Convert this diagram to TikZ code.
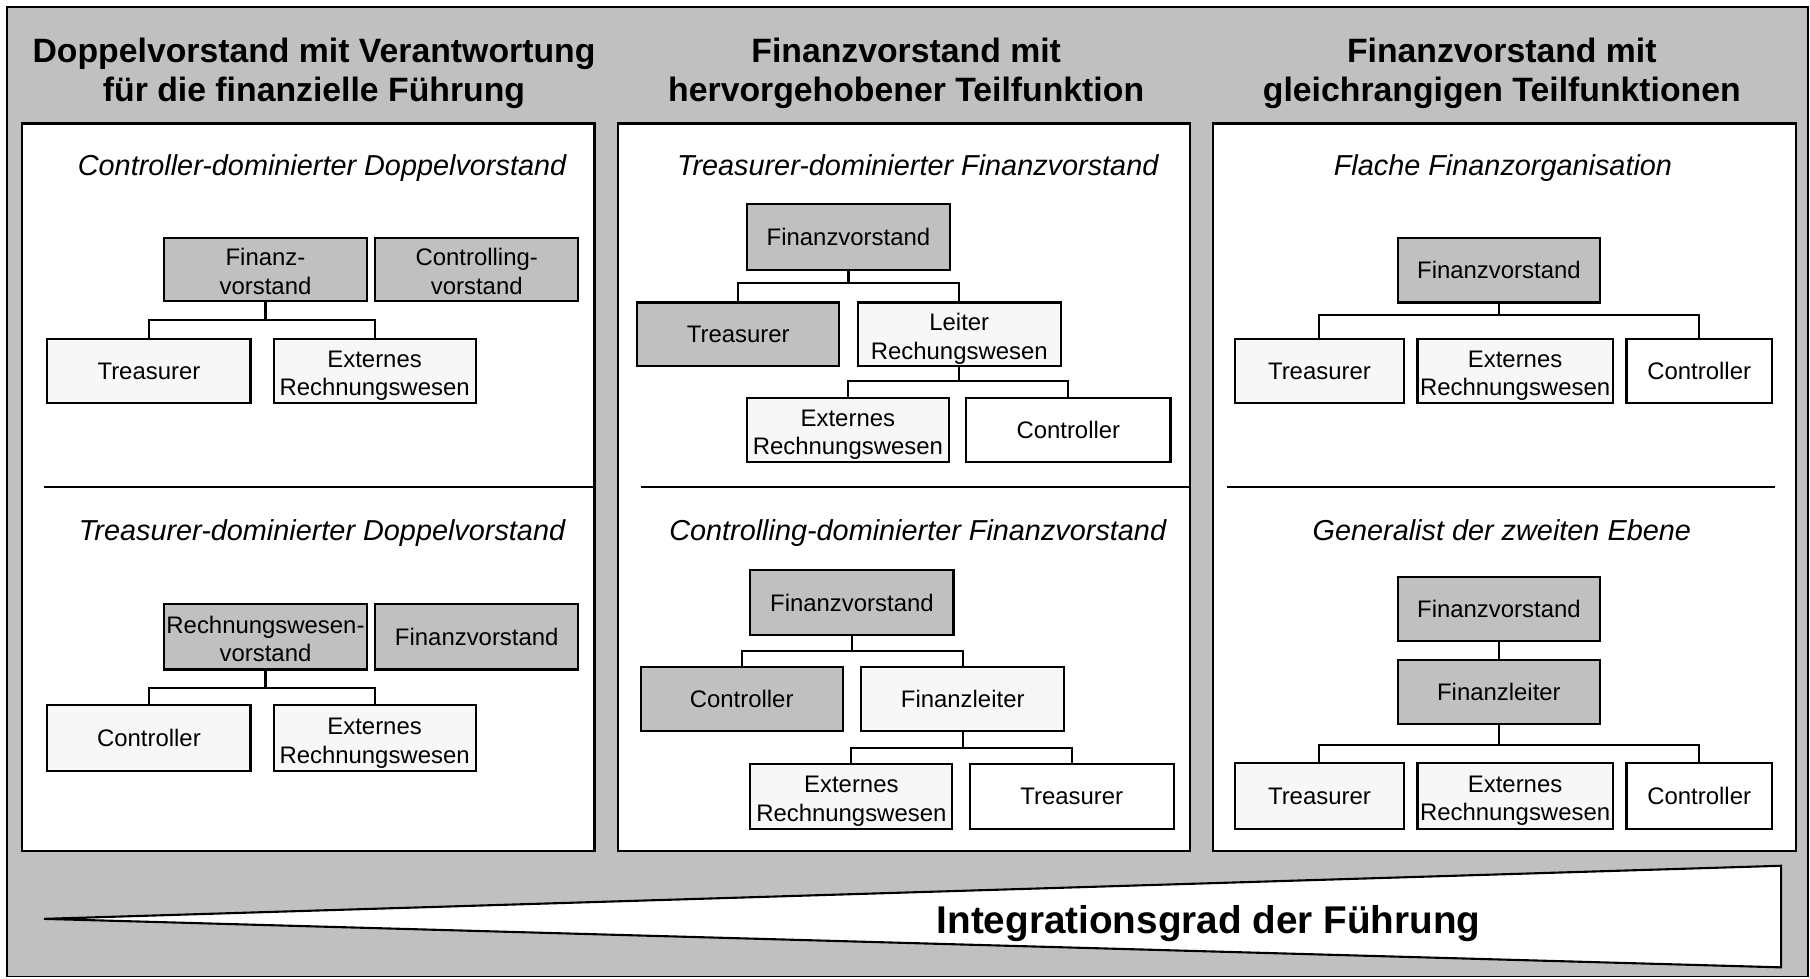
\documentclass[tikz,border=0pt]{standalone}
\usepackage{fontspec}
\setmainfont{Liberation Sans}
\newdimen\unitpx
\unitpx=0.011543cm
\definecolor{bggray}{RGB}{192,192,192}
\definecolor{lightbox}{RGB}{247,247,247}
\newcommand\twol[2]{\raisebox{-1.4pt}[\height][\depth]{\begin{tabular}{@{}c@{}}#1\\#2\end{tabular}}}
\begin{document}
\begin{tikzpicture}[x=0.011543cm,y=-0.011543cm,
  ttl/.style={align=center,font=\fontsize{9.6}{11}\selectfont\bfseries,inner sep=0pt},
  sub/.style={font=\fontsize{8.2}{10}\selectfont\itshape,inner sep=0pt,anchor=base},
  boxbase/.style={draw,line width=0.6pt,align=center,inner sep=0pt,font=\fontsize{6.8}{8.1}\selectfont},
  graybox/.style={boxbase,fill=bggray},
  litebox/.style={boxbase,fill=lightbox},
  whitebox/.style={boxbase,fill=white},
  conn/.style={line width=0.6pt},
  panel/.style={draw,line width=0.6pt,fill=white}]
\useasboundingbox (0,0) rectangle (1568,848);
\draw[line width=0.5pt,fill=bggray] (6,6) rectangle (1566,846);

% titles
\node[ttl] (t1) at (272,63.5) {Doppelvorstand mit Verantwortung\\für die finanzielle Führung};
\node[ttl] (t2) at (785,63.5) {Finanzvorstand mit\\hervorgehobener Teilfunktion};
\node[ttl] (t3) at (1301,63.5) {Finanzvorstand mit\\gleichrangigen Teilfunktionen};

% panels
\draw[panel] (19,107) rectangle (515,737);
\draw[panel] (535,107) rectangle (1031,737);
\draw[panel] (1051,107) rectangle (1556,737);
\draw[conn] (38,422) -- (515,422);
\draw[conn] (555,422) -- (1031,422);
\draw[conn] (1063,422) -- (1538,422);

% subtitles
\node[sub] (s1) at (279,152) {Controller-dominierter Doppelvorstand};
\node[sub] (s2) at (279,468) {Treasurer-dominierter Doppelvorstand};
\node[sub] (s3) at (795,152) {Treasurer-dominierter Finanzvorstand};
\node[sub] (s4) at (795,468) {Controlling-dominierter Finanzvorstand};
\node[sub] (s5) at (1302,152) {Flache Finanzorganisation};
\node[sub] (s6) at (1301,468) {Generalist der zweiten Ebene};

% panel 1 top
\node[graybox,minimum width=176\unitpx,minimum height=55\unitpx] (a1) at (230,233.5) {\twol{Finanz-}{vorstand}};
\node[graybox,minimum width=176\unitpx,minimum height=55\unitpx] (a2) at (413,233.5) {\twol{Controlling-}{vorstand}};
\node[litebox,minimum width=176\unitpx,minimum height=55\unitpx] (a3) at (129,321.5) {Treasurer};
\node[litebox,minimum width=175\unitpx,minimum height=55\unitpx] (a4) at (324.5,321.5) {\twol{Externes}{Rechnungswesen}};
\coordinate (busA) at (0,277);
\draw[conn] (a1.south) -- (a1.south |- busA);
\draw[conn] (a3.north) |- (a4.north |- busA) -- (a4.north);

% panel 1 bottom
\node[graybox,minimum width=176\unitpx,minimum height=57\unitpx] (b1) at (230,551.5) {\twol{Rechnungswesen-}{vorstand}};
\node[graybox,minimum width=176\unitpx,minimum height=57\unitpx] (b2) at (413,551.5) {Finanzvorstand};
\node[litebox,minimum width=176\unitpx,minimum height=57\unitpx] (b3) at (129,639.5) {Controller};
\node[litebox,minimum width=175\unitpx,minimum height=57\unitpx] (b4) at (324.5,639.5) {\twol{Externes}{Rechnungswesen}};
\coordinate (busB) at (0,596);
\draw[conn] (b1.south) -- (b1.south |- busB);
\draw[conn] (b3.north) |- (b4.north |- busB) -- (b4.north);

% panel 2 top
\node[graybox,minimum width=176\unitpx,minimum height=57\unitpx] (c1) at (735,205.5) {Finanzvorstand};
\node[graybox,minimum width=175\unitpx,minimum height=55\unitpx] (c2) at (639.5,289.5) {Treasurer};
\node[litebox,minimum width=176\unitpx,minimum height=55\unitpx] (c3) at (831,289.5) {\twol{Leiter}{Rechungswesen}};
\node[litebox,minimum width=175\unitpx,minimum height=55\unitpx] (c4) at (734.5,372.5) {\twol{Externes}{Rechnungswesen}};
\node[whitebox,minimum width=177\unitpx,minimum height=55\unitpx] (c5) at (925.5,372.5) {Controller};
\coordinate (busC) at (0,245);
\coordinate (busC2) at (0,330);
\draw[conn] (c1.south) -- (c1.south |- busC);
\draw[conn] (c2.north) |- (c3.north |- busC) -- (c3.north);
\draw[conn] (c3.south) -- (c3.south |- busC2);
\draw[conn] (c4.north) |- (c5.north |- busC2) -- (c5.north);

% panel 2 bottom
\node[graybox,minimum width=176\unitpx,minimum height=56\unitpx] (d1) at (738,522) {Finanzvorstand};
\node[graybox,minimum width=175\unitpx,minimum height=55\unitpx] (d2) at (642.5,605.5) {Controller};
\node[litebox,minimum width=176\unitpx,minimum height=55\unitpx] (d3) at (834,605.5) {Finanzleiter};
\node[litebox,minimum width=175\unitpx,minimum height=56\unitpx] (d4) at (737.5,690) {\twol{Externes}{Rechnungswesen}};
\node[whitebox,minimum width=177\unitpx,minimum height=56\unitpx] (d5) at (928.5,690) {Treasurer};
\coordinate (busD) at (0,564);
\coordinate (busD2) at (0,648);
\draw[conn] (d1.south) -- (d1.south |- busD);
\draw[conn] (d2.north) |- (d3.north |- busD) -- (d3.north);
\draw[conn] (d3.south) -- (d3.south |- busD2);
\draw[conn] (d4.north) |- (d5.north |- busD2) -- (d5.north);

% panel 3 top
\node[graybox,minimum width=175\unitpx,minimum height=56\unitpx] (e1) at (1298.5,234) {Finanzvorstand};
\node[litebox,minimum width=146\unitpx,minimum height=55\unitpx] (e2) at (1143,321.5) {Treasurer};
\node[litebox,minimum width=169\unitpx,minimum height=55\unitpx] (e3) at (1312.5,321.5) {\twol{Externes}{Rechnungswesen}};
\node[whitebox,minimum width=126\unitpx,minimum height=55\unitpx] (e4) at (1472,321.5) {Controller};
\coordinate (busE) at (0,273);
\draw[conn] (e1.south) -- (e1.south |- busE);
\draw[conn] (e2.north) |- (e4.north |- busE) -- (e4.north);

% panel 3 bottom
\node[graybox,minimum width=175\unitpx,minimum height=55\unitpx] (f1) at (1298.5,527.5) {Finanzvorstand};
\node[graybox,minimum width=175\unitpx,minimum height=55\unitpx] (f2) at (1298.5,599.5) {Finanzleiter};
\node[litebox,minimum width=146\unitpx,minimum height=57\unitpx] (f3) at (1143,689.5) {Treasurer};
\node[litebox,minimum width=169\unitpx,minimum height=57\unitpx] (f4) at (1312.5,689.5) {\twol{Externes}{Rechnungswesen}};
\node[whitebox,minimum width=126\unitpx,minimum height=57\unitpx] (f5) at (1472,689.5) {Controller};
\coordinate (busF) at (0,645);
\draw[conn] (f1.south) -- (f2.north);
\draw[conn] (f2.south) -- (f2.south |- busF);
\draw[conn] (f3.north) |- (f5.north |- busF) -- (f5.north);

% wedge
\coordinate (tip) at (38,796);
\coordinate (wtop) at (1543,750);
\coordinate (wbot) at (1543,838);
\draw[line width=0.6pt,fill=white] (tip) -- (wtop) -- (wbot) -- cycle;
\node[font=\fontsize{11}{13}\selectfont\bfseries,inner sep=0pt] (wl) at (1047,800) {Integrationsgrad der Führung};
\end{tikzpicture}
\end{document}
